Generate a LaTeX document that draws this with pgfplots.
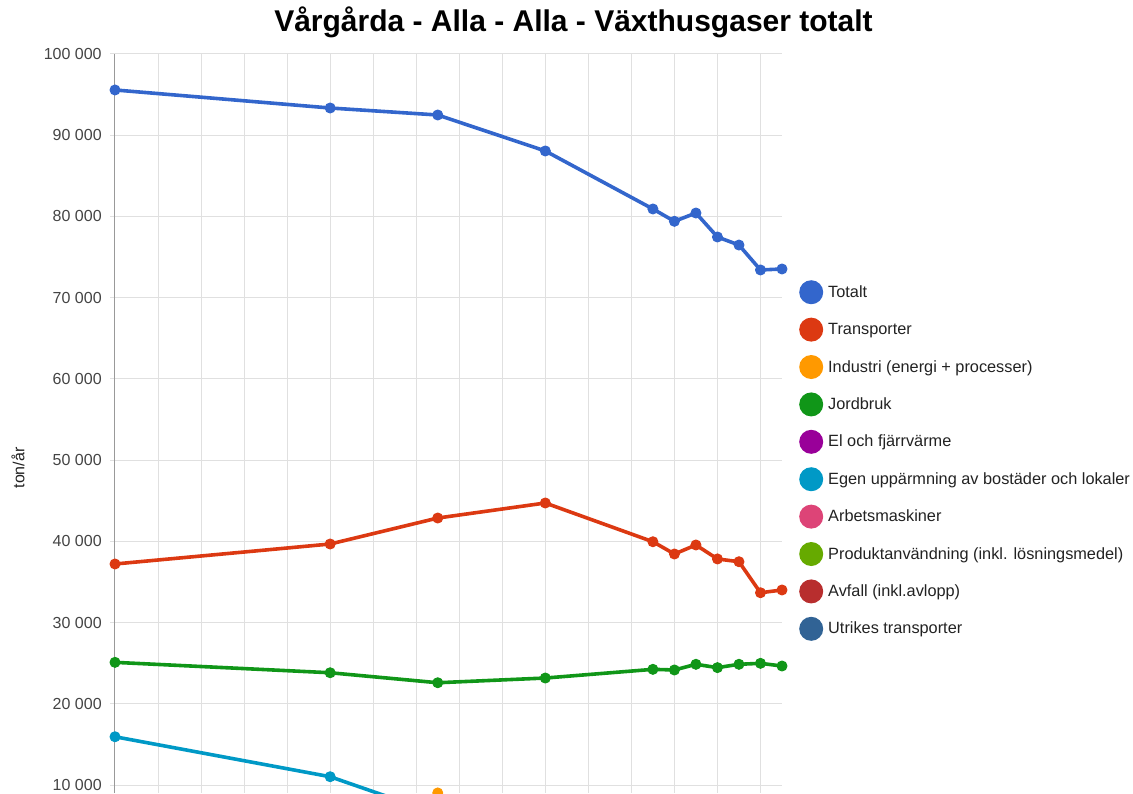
\documentclass[border=0pt]{standalone}
\usepackage{fontspec}
\setmainfont{Liberation Sans}
\usepackage{pgfplots}
\pgfplotsset{compat=1.18}
\definecolor{cTot}{HTML}{3366CC}
\definecolor{cTra}{HTML}{DC3912}
\definecolor{cInd}{HTML}{FF9900}
\definecolor{cJor}{HTML}{109618}
\definecolor{cEl}{HTML}{990099}
\definecolor{cEgen}{HTML}{0099C6}
\definecolor{cArb}{HTML}{DD4477}
\definecolor{cPro}{HTML}{66AA00}
\definecolor{cAvf}{HTML}{B82E2E}
\definecolor{cUtr}{HTML}{316395}
\definecolor{gridc}{HTML}{E0E0E0}
\definecolor{axc}{HTML}{999999}
\definecolor{tickc}{HTML}{444444}
\definecolor{legc}{HTML}{222222}
\pgfplotsset{ser/.style={color=#1, line width=3.6pt, line join=round, mark=*, mark size=5pt, mark options={solid, line width=1pt}}}
\begin{document}
\begin{tikzpicture}[x=1pt,y=1pt]
\useasboundingbox (0,0) rectangle (1133,793);
\begin{axis}[
  at={(115pt,0pt)}, anchor=south west,
  scale only axis, width=667pt, height=739pt,
  xmin=1990, xmax=2021, ymin=9015, ymax=100000,
  scaled y ticks=false,
  axis lines*=left,
  x axis line style={draw=none},
  y axis line style={color=axc, line width=1pt},
  xtick={1990,1992,...,2020}, xticklabels={},
  xtick style={draw=none},
  ytick={10000,20000,...,100000},
  yticklabels={10 000,20 000,30 000,40 000,50 000,60 000,70 000,80 000,90 000,100 000},
  xmajorgrids, ymajorgrids,
  grid style={color=gridc, line width=1pt},
  tick align=outside, major tick length=5pt,
  ytick style={color=gridc, line width=1pt},
  yticklabel style={font=\fontsize{16}{19}\selectfont, text=tickc, xshift=-4.8pt},
  ylabel={ton/år},
  every axis y label/.style={at={(axis description cs:-0.1454,0.4398)}, rotate=90, anchor=center, font=\fontsize{16}{19}\selectfont, text=legc},
  legend image code/.code={\path[fill, draw=none, line width=0pt] (12pt,0pt) circle (12pt);},
  legend style={at={(1.0255,0.4499)}, anchor=west, draw=none, fill=none, inner sep=0pt,
    font=\fontsize{16.3}{19}\selectfont, text=legc, row sep=13.4pt,
    nodes={inner sep=0pt},
    /tikz/every odd column/.style={column sep=5pt}},
  legend cell align=left,
]
\addplot[ser=cTot] coordinates {(1990,95570)(2000,93350)(2005,92490)(2010,88060)(2015,80920)(2016,79400)(2017,80420)(2018,77470)(2019,76480)(2020,73410)(2021,73530)};
\addlegendentry{Totalt}
\addplot[ser=cTra] coordinates {(1990,37210)(2000,39670)(2005,42870)(2010,44720)(2015,39950)(2016,38440)(2017,39550)(2018,37830)(2019,37490)(2020,33670)(2021,34010)};
\addlegendentry{Transporter}
\addplot[ser=cInd] coordinates {(2005,9020)};
\addlegendentry{Industri (energi + processer)}
\addplot[ser=cJor] coordinates {(1990,25100)(2000,23820)(2005,22590)(2010,23170)(2015,24240)(2016,24160)(2017,24860)(2018,24450)(2019,24860)(2020,24980)(2021,24650)};
\addlegendentry{Jordbruk}
\addlegendimage{color=cEl}
\addlegendentry{El och fjärrvärme}
\addplot[ser=cEgen] coordinates {(1990,15940)(2000,11020)(2005,6430)};
\addlegendentry{Egen uppärmning av bostäder och lokaler}
\addlegendimage{color=cArb}
\addlegendentry{Arbetsmaskiner}
\addlegendimage{color=cPro}
\addlegendentry{Produktanvändning (inkl. lösningsmedel)}
\addlegendimage{color=cAvf}
\addlegendentry{Avfall (inkl.avlopp)}
\addlegendimage{color=cUtr}
\addlegendentry{Utrikes transporter}
\end{axis}
\node[font=\fontsize{30}{36}\selectfont\bfseries, anchor=base] at (573.5,761) {Vårgårda - Alla - Alla - Växthusgaser totalt};
\end{tikzpicture}
\end{document}
